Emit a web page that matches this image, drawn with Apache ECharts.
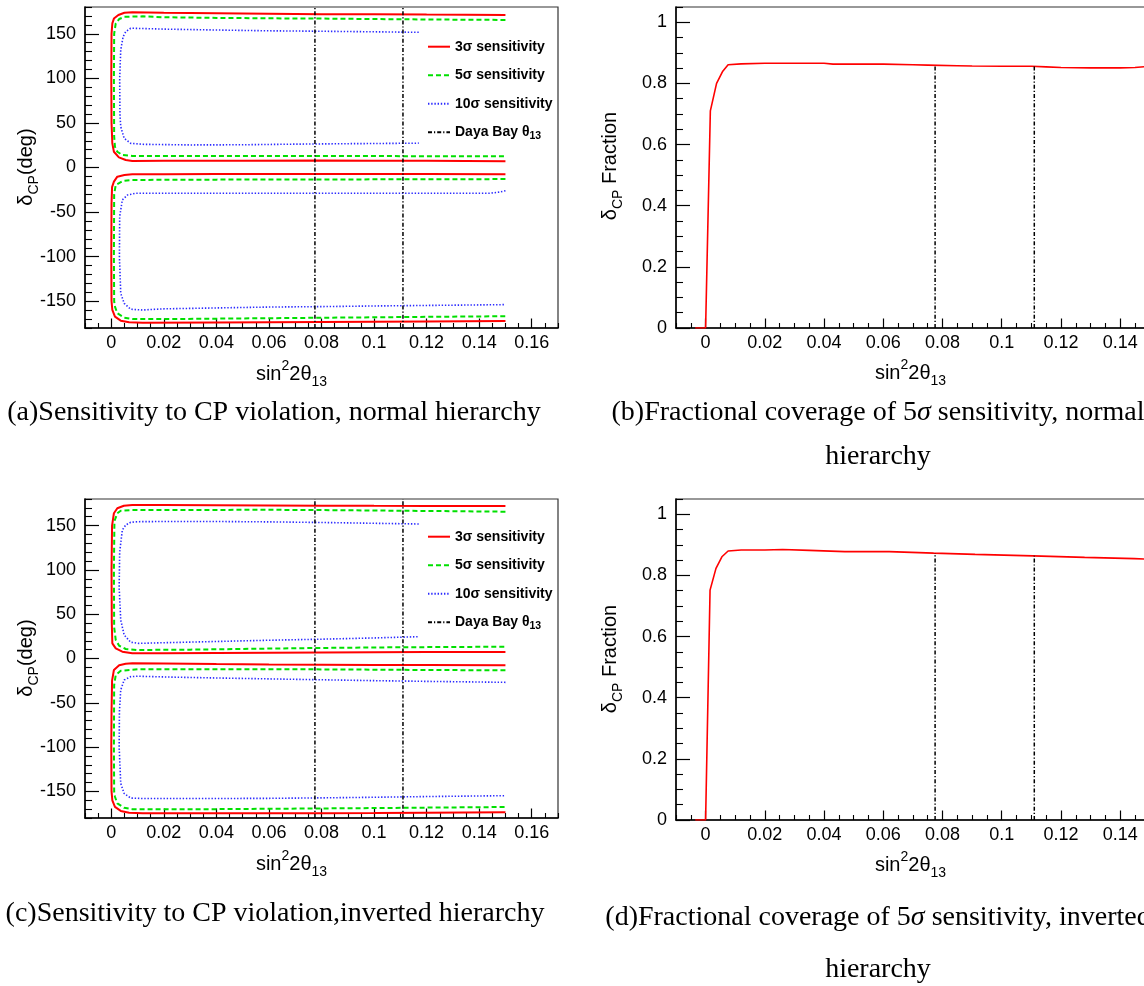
<!DOCTYPE html>
<html>
<head>
<meta charset="utf-8">
<script src="https://cdn.jsdelivr.net/npm/echarts@6/dist/echarts.min.js"></script>
<style>
html,body{margin:0;padding:0;background:#fff;}
#c{width:1144px;height:986px;}
</style>
</head>
<body>
<div id="c"></div>
<script>
// ---------- tick values ----------
const xTicks = [0, 0.02, 0.04, 0.06, 0.08, 0.1, 0.12, 0.14, 0.16];
const deltaTicks = [-150, -100, -50, 0, 50, 100, 150];
const fracTicks = [0, 0.2, 0.4, 0.6, 0.8, 1];

// ---------- Daya Bay theta13 range ----------
const dayaBayX = [0.0775, 0.111];
const fracNHAtDayaBay = [0.859, 0.856];
const fracIHAtDayaBay = [0.873, 0.864];

// ---------- (a) normal hierarchy contours [sin^2 2theta13, deltaCP] ----------
const nh3Upper = [[0.15,171],[0.12,171.5],[0.1,172],[0.08,172],[0.06,172.5],[0.04,173],[0.02,173.5],[0.008,174],[0.005,173.6],[0.0027,171],[0.001,167],[0.0004,161.7],[0.0001,150],[0.0,100],[0.0001,50],[0.0004,27],[0.001,17.7],[0.0029,11.4],[0.0055,8.4],[0.008,7.3],[0.02,7.5],[0.05,7.6],[0.08,7.8],[0.1,7.6],[0.12,7.5],[0.15,7.0]];
const nh3Lower = [[0.15,-7.5],[0.12,-7.3],[0.1,-7.3],[0.08,-7.2],[0.06,-7.3],[0.04,-7.4],[0.02,-7.5],[0.008,-7.6],[0.005,-8.4],[0.0023,-10.3],[0.001,-15.9],[0.0003,-22],[0.0001,-40],[0,-100],[0.0001,-150],[0.0004,-159.8],[0.0014,-167.3],[0.0036,-171.8],[0.0068,-173.6],[0.012,-174],[0.04,-173.8],[0.08,-173.3],[0.1,-173],[0.12,-172.7],[0.15,-172.2]];
const nh5Upper = [[0.15,165.5],[0.12,166],[0.1,166.5],[0.08,167],[0.06,167.3],[0.04,167.8],[0.02,168.5],[0.012,169.5],[0.008,169.3],[0.005,169],[0.003,166.5],[0.0017,161.7],[0.0011,150],[0.001,100],[0.0011,35],[0.0014,23.3],[0.0023,17.7],[0.0042,14],[0.008,12.9],[0.02,12.9],[0.05,12.9],[0.08,12.8],[0.1,12.8],[0.12,12.7],[0.15,12.6]];
const nh5Lower = [[0.15,-13],[0.12,-13.2],[0.1,-13.3],[0.08,-13.4],[0.06,-13.5],[0.04,-13.6],[0.02,-13.8],[0.008,-14],[0.0045,-15.1],[0.0017,-19.6],[0.0011,-30],[0.001,-100],[0.0011,-150],[0.0014,-156],[0.0023,-163.5],[0.0049,-168.4],[0.008,-169.8],[0.02,-170],[0.04,-169.5],[0.06,-169],[0.08,-168.5],[0.1,-168],[0.12,-167.5],[0.15,-166.8]];
const nh10Upper = [[0.117,151.6],[0.1,152.2],[0.08,152.8],[0.06,153.3],[0.04,154.2],[0.02,155.2],[0.01,156],[0.0074,156.2],[0.0055,152.3],[0.0045,146.7],[0.0036,131.8],[0.0032,100],[0.0033,60],[0.0036,45.8],[0.0049,32.7],[0.0074,27.1],[0.012,26],[0.03,25.3],[0.05,25.5],[0.07,26.2],[0.09,26.7],[0.1,26.9],[0.117,27.3]];
const nh10Lower = [[0.15,-26],[0.148,-27.5],[0.144,-28.9],[0.12,-28.9],[0.1,-28.8],[0.08,-28.8],[0.06,-28.9],[0.04,-28.9],[0.02,-28.9],[0.0093,-28.9],[0.0062,-30.8],[0.0042,-36.4],[0.0032,-55],[0.0031,-100],[0.0036,-141],[0.0049,-152.3],[0.0074,-159],[0.012,-159.8],[0.02,-158.5],[0.04,-157.5],[0.06,-156.5],[0.08,-156],[0.1,-155.3],[0.12,-154.7],[0.15,-153.8]];

// ---------- (c) inverted hierarchy contours ----------
const ih3Upper = [[0.15,172],[0.12,172.2],[0.1,172.3],[0.08,172.5],[0.06,172.7],[0.04,172.9],[0.02,173.1],[0.008,173.2],[0.0048,172.4],[0.0023,169.5],[0.001,163.9],[0.0003,150],[0.0001,100],[0.0002,40],[0.0004,17.1],[0.0017,11.5],[0.0042,7.7],[0.008,5.9],[0.02,5.9],[0.04,6.2],[0.06,6.5],[0.08,6.8],[0.1,7],[0.12,7.2],[0.15,7.4]];
const ih3Lower = [[0.15,-7.7],[0.12,-7.4],[0.1,-7.2],[0.08,-7],[0.06,-6.8],[0.04,-6.3],[0.02,-5.7],[0.008,-5.4],[0.0055,-5.9],[0.003,-7.7],[0.001,-13],[0.0003,-25],[0.0001,-60],[0,-100],[0.0001,-150],[0.0004,-160],[0.0014,-167.5],[0.0036,-172],[0.0068,-174],[0.012,-174.5],[0.04,-174.5],[0.08,-174.5],[0.1,-174.3],[0.12,-174],[0.15,-173.6]];
const ih5Upper = [[0.15,165.7],[0.12,166.5],[0.1,167],[0.08,167.5],[0.06,167.8],[0.04,167.7],[0.02,167.6],[0.008,167.6],[0.0036,166.8],[0.0023,163.9],[0.0012,155],[0.001,100],[0.0011,35],[0.0017,20.9],[0.003,14.4],[0.0055,10.7],[0.01,9.6],[0.03,10],[0.05,10.8],[0.07,11.6],[0.09,12.2],[0.11,12.7],[0.13,13],[0.15,13.3]];
const ih5Lower = [[0.15,-13.3],[0.12,-13],[0.1,-12.6],[0.08,-12.3],[0.06,-12],[0.04,-12],[0.02,-12.1],[0.01,-12.2],[0.0036,-13.8],[0.0017,-18.6],[0.0011,-30],[0.001,-100],[0.0011,-150],[0.0014,-156],[0.0023,-163.5],[0.0049,-168.5],[0.008,-170],[0.02,-170.2],[0.04,-170],[0.06,-169.6],[0.08,-169.2],[0.1,-168.8],[0.12,-168.3],[0.15,-167.6]];
const ih10Upper = [[0.117,151.8],[0.1,152.6],[0.08,153.5],[0.06,154.2],[0.04,154.6],[0.02,154.6],[0.01,154.4],[0.0074,153.7],[0.0055,150.7],[0.0042,145],[0.0032,120],[0.003,80],[0.0036,43.4],[0.0049,26.5],[0.0074,18.3],[0.0105,17.1],[0.02,17.8],[0.04,19.2],[0.06,20.6],[0.08,21.8],[0.1,23.2],[0.117,24.6]];
const ih10Lower = [[0.15,-26.9],[0.12,-25.8],[0.1,-25],[0.08,-24],[0.06,-23],[0.04,-22],[0.02,-20.8],[0.01,-20],[0.0074,-20.5],[0.0049,-24.3],[0.0036,-35.5],[0.0031,-60],[0.003,-100],[0.0036,-141],[0.0049,-152.3],[0.0074,-157.5],[0.012,-158],[0.04,-158],[0.06,-157.8],[0.08,-157.3],[0.1,-156.6],[0.12,-155.8],[0.15,-154.8]];

// ---------- (b),(d) fraction of deltaCP covered at 5 sigma ----------
const fracNH = [[-0.0035,0],[0,0],[0.0016,0.71],[0.0037,0.80],[0.0058,0.84],[0.0076,0.861],[0.012,0.864],[0.02,0.866],[0.03,0.866],[0.04,0.866],[0.043,0.863],[0.06,0.863],[0.07,0.861],[0.075,0.86],[0.085,0.858],[0.09,0.857],[0.1,0.856],[0.11,0.856],[0.115,0.854],[0.12,0.852],[0.13,0.851],[0.14,0.851],[0.145,0.852],[0.15,0.856]];
const fracIH = [[-0.0035,0],[0,0],[0.0015,0.752],[0.0035,0.823],[0.0055,0.861],[0.0076,0.880],[0.012,0.883],[0.02,0.883],[0.026,0.885],[0.035,0.882],[0.047,0.878],[0.062,0.878],[0.077,0.873],[0.091,0.869],[0.1105,0.864],[0.128,0.859],[0.1448,0.855],[0.15,0.853]];

// ---------- helpers ----------
const FONT = 'Liberation Sans';
const SERIF = 'Liberation Serif';
function minorList(lo, hi, step, every) {
  const out = [];
  for (let k = Math.round(lo/step); k <= Math.round(hi/step); k++) {
    if (k % every !== 0) out.push(+(k*step).toFixed(6));
  }
  return out;
}
const xMinor = minorList(-0.01, 0.17, 0.005, 4);
const deltaMinor = minorList(-180, 180, 10, 5);
const fracMinor = minorList(0, 1.05, 0.05, 4);

function fmtNum(v){ return String(Math.round(v*100)/100); }

function xAxes(g) {
  return [
    { type:'value', gridIndex:g, position:'bottom', min:-0.01, max:0.17,
      axisLine:{show:true, onZero:false, lineStyle:{color:'#000', width:1.5}},
      axisTick:{show:true, inside:true, length:9.5, customValues:xTicks, lineStyle:{color:'#000', width:1.2}},
      axisLabel:{show:true, customValues:xTicks, formatter:fmtNum, margin:6, fontSize:18, color:'#000', fontFamily:FONT},
      splitLine:{show:false} },
    { type:'value', gridIndex:g, position:'bottom', min:-0.01, max:0.17,
      axisLine:{show:false, onZero:false},
      axisTick:{show:true, inside:true, length:5, customValues:xMinor, lineStyle:{color:'#000', width:1.1}},
      axisLabel:{show:false}, splitLine:{show:false} }
  ];
}
function yAxes(g, min, max, major, minor) {
  return [
    { type:'value', gridIndex:g, position:'left', min:min, max:max,
      axisLine:{show:true, onZero:false, lineStyle:{color:'#000', width:1.5}},
      axisTick:{show:true, inside:true, length:14, customValues:major, lineStyle:{color:'#000', width:1.2}},
      axisLabel:{show:true, customValues:major, formatter:fmtNum, margin:9, fontSize:18, color:'#000', fontFamily:FONT},
      splitLine:{show:false} },
    { type:'value', gridIndex:g, position:'left', min:min, max:max,
      axisLine:{show:false, onZero:false},
      axisTick:{show:true, inside:true, length:7, customValues:minor, lineStyle:{color:'#000', width:1.1}},
      axisLabel:{show:false}, splitLine:{show:false} }
  ];
}

const S3 = '3σ sensitivity', S5 = '5σ sensitivity', S10 = '10σ sensitivity', DB = 'Daya Bay θ13';
const style3 = {color:'#ff0000', width:2, type:'solid'};
const style5 = {color:'#00e000', width:2, type:[5,3]};
const style10 = {color:'#2a2aff', width:1.6, type:[1.4,1.8]};
const styleDB = {color:'#000', width:1.5, type:[4,2,1.2,2]};

function lineSeries(name, data, ls, xi, yi) {
  return { type:'line', name:name, data:data, xAxisIndex:xi, yAxisIndex:yi,
    symbol:'none', showSymbol:false, smooth:false, clip:true, silent:true,
    lineStyle:ls, itemStyle:{color:ls.color}, emphasis:{disabled:true}, z:3 };
}

const series = [];
[[nh3Upper,nh3Lower,nh5Upper,nh5Lower,nh10Upper,nh10Lower,0],
 [ih3Upper,ih3Lower,ih5Upper,ih5Lower,ih10Upper,ih10Lower,4]].forEach(p => {
  const a = p[6];
  series.push(lineSeries(S3, p[0], style3, a, a));
  series.push(lineSeries(S3, p[1], style3, a, a));
  series.push(lineSeries(S5, p[2], style5, a, a));
  series.push(lineSeries(S5, p[3], style5, a, a));
  series.push(lineSeries(S10, p[4], style10, a, a));
  series.push(lineSeries(S10, p[5], style10, a, a));
  dayaBayX.forEach(x => series.push(lineSeries(DB, [[x,-180],[x,180]], styleDB, a, a)));
});
[[fracNH, fracNHAtDayaBay, 2], [fracIH, fracIHAtDayaBay, 6]].forEach(p => {
  const a = p[2];
  series.push(lineSeries('fraction', p[0], {color:'#ff0000', width:1.6, type:'solid'}, a, a));
  dayaBayX.forEach((x,i) => series.push(lineSeries('dayabay-frac', [[x,0],[x,p[1][i]]], styleDB, a, a)));
});

function legendFor(top) {
  return { show:true, orient:'vertical', left:427, top:top, padding:0,
    itemWidth:22, itemHeight:12, itemGap:10.5, selectedMode:false,
    itemStyle:{opacity:0},
    data:[S3,S5,S10,DB],
    formatter: n => n === DB ? '{b|Daya Bay θ}{s|13}' : n,
    textStyle:{fontSize:14, fontWeight:'bold', color:'#000', fontFamily:FONT, lineHeight:18,
      rich:{ b:{fontSize:14, fontWeight:'bold', color:'#000', fontFamily:FONT, lineHeight:18},
             s:{fontSize:10.5, fontWeight:'bold', color:'#000', fontFamily:FONT, lineHeight:10, verticalAlign:'bottom'} } } };
}

const titleRich = {
  m:{fontSize:20, fontFamily:FONT, fill:'#000', color:'#000', lineHeight:30},
  p:{fontSize:14, fontFamily:FONT, fill:'#000', color:'#000', lineHeight:20, verticalAlign:'top'},
  s:{fontSize:14, fontFamily:FONT, fill:'#000', color:'#000', lineHeight:14, verticalAlign:'bottom'}
};
function title(x, y, text, rot) {
  return { type:'text', x:x, y:y, rotation:rot||0, silent:true,
    style:{ text:text, rich:titleRich, fontSize:20, fontFamily:FONT, fill:'#000',
      align:'center', verticalAlign:'middle', textAlign:'center', textVerticalAlign:'middle' } };
}
function caption(x, y, text, lh) {
  return { type:'text', x:x, y:y, silent:true,
    style:{ text:text, fontSize:28, fontFamily:SERIF, fill:'#000', lineHeight:lh||32,
      rich:{ i:{fontSize:28, fontFamily:SERIF, fontStyle:'italic', fill:'#000', lineHeight:lh||32} },
      align:'center', verticalAlign:'middle', textAlign:'center', textVerticalAlign:'middle' } };
}

const XT = '{m|sin}{p|2}{m|2θ}{s|13}';
const YT1 = '{m|δ}{s|CP}{m|(deg)}';
const YT2 = '{m|δ}{s|CP}{m| Fraction}';

const gridBase = {show:true, borderColor:'#333', borderWidth:1.2, backgroundColor:'transparent', containLabel:false, outerBoundsMode:'none'};
const option = {
  backgroundColor:'#fff',
  animation:false,
  grid:[
    Object.assign({left:85, top:7, width:473, height:321}, gridBase),
    Object.assign({left:676, top:7, width:533, height:321}, gridBase),
    Object.assign({left:85, top:499, width:473, height:319}, gridBase),
    Object.assign({left:676, top:499, width:533, height:321}, gridBase)
  ],
  xAxis:[].concat(xAxes(0), xAxes(1), xAxes(2), xAxes(3)),
  yAxis:[].concat(
    yAxes(0,-180,180,deltaTicks,deltaMinor),
    yAxes(1,0,1.05,fracTicks,fracMinor),
    yAxes(2,-180,180,deltaTicks,deltaMinor),
    yAxes(3,0,1.05,fracTicks,fracMinor)),
  legend:[legendFor(37.7), legendFor(527.7)],
  series:series,
  graphic:{ elements:[
    title(291.5, 374, XT), title(910.5, 373, XT),
    title(291.5, 864, XT), title(910.5, 865, XT),
    title(26, 167, YT1, Math.PI/2), title(610, 166, YT2, Math.PI/2),
    title(26, 658, YT1, Math.PI/2), title(610, 659, YT2, Math.PI/2),
    caption(274, 413, '(a)Sensitivity to CP violation, normal hierarchy'),
    caption(878, 435, '(b)Fractional coverage of 5{i|σ} sensitivity, normal\nhierarchy', 44),
    caption(275, 914, '(c)Sensitivity to CP violation,inverted hierarchy'),
    caption(878, 944, '(d)Fractional coverage of 5{i|σ} sensitivity, inverted\nhierarchy', 52)
  ]}
};

const chart = echarts.init(document.getElementById('c'), null, {renderer:'canvas'});
chart.setOption(option);
</script>
</body>
</html>
